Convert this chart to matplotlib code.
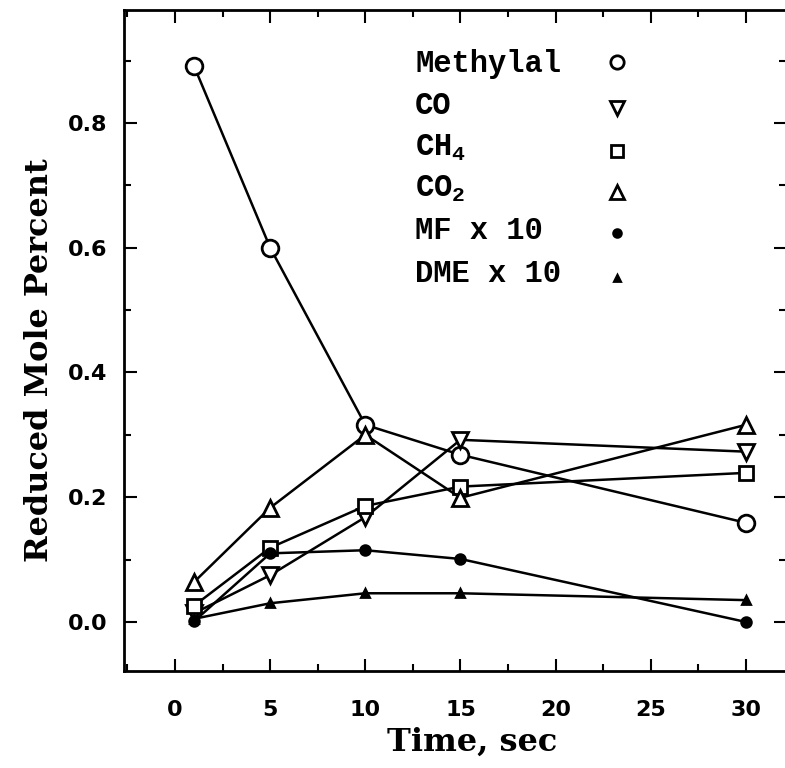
import matplotlib
matplotlib.use('Agg')
import matplotlib.pyplot as plt
from matplotlib.ticker import MultipleLocator

plt.rcParams['mathtext.fontset'] = 'custom'
plt.rcParams['mathtext.rm'] = 'Liberation Mono:bold'
plt.rcParams['mathtext.it'] = 'Liberation Mono:bold'
plt.rcParams['mathtext.bf'] = 'Liberation Mono:bold'

# time, sec
time = [1, 5, 10, 15, 30]

# reduced mole percent for each species
methylal = [0.891, 0.600, 0.316, 0.268, 0.159]
co = [0.014, 0.075, 0.168, 0.292, 0.273]
ch4 = [0.026, 0.119, 0.186, 0.217, 0.239]
co2 = [0.064, 0.183, 0.300, 0.199, 0.316]
mf_x10 = [0.001, 0.110, 0.115, 0.101, 0.0]
dme_x10 = [0.005, 0.030, 0.046, 0.046, 0.035]

labels = ['Methylal', 'CO', 'CH$_4$', 'CO$_2$', 'MF x 10', 'DME x 10']
x_ticks = [0, 5, 10, 15, 20, 25, 30]
y_ticks = [0.0, 0.2, 0.4, 0.6, 0.8]

# marker, size, face colour
styles = [
    ('o', 12, 'white'),
    ('v', 12, 'white'),
    ('s', 10, 'white'),
    ('^', 12, 'white'),
    ('o', 7, 'black'),
    ('^', 5.5, 'black'),
]
series = [methylal, co, ch4, co2, mf_x10, dme_x10]

fig = plt.figure(figsize=(7.85, 7.68), dpi=100)
ax = fig.add_axes([0.158, 0.1263, 0.8433, 0.8607])

for vals, (m, ms, fc) in zip(series, styles):
    ax.plot(time, vals, color='black', linewidth=1.8, marker=m, markersize=ms,
            markerfacecolor=fc, markeredgecolor='black', markeredgewidth=2.0)

ax.set_xlim(-2.68, 32.11)
ax.set_ylim(-0.0786, 0.981)
ax.set_xticks(x_ticks)
ax.set_yticks(y_ticks)
ax.set_yticklabels([f'{v:.1f}' for v in y_ticks])
ax.xaxis.set_minor_locator(MultipleLocator(2.5))
ax.yaxis.set_minor_locator(MultipleLocator(0.1))
ax.tick_params(which='both', direction='in', top=True, right=True, width=1.5, color='black')
ax.tick_params(which='major', length=9)
ax.tick_params(which='minor', length=5)
ax.tick_params(axis='x', which='major', pad=21)
ax.tick_params(axis='y', which='major', pad=12)
for lab in ax.get_xticklabels() + ax.get_yticklabels():
    lab.set_fontfamily('DejaVu Sans')
    lab.set_fontweight('bold')
    lab.set_fontsize(16)
for sp in ax.spines.values():
    sp.set_linewidth(2.0)

ax.set_xlabel('Time, sec', fontfamily='DejaVu Serif', fontweight='bold', fontsize=23)
ax.set_ylabel('Reduced Mole Percent', fontfamily='DejaVu Serif', fontweight='bold', fontsize=23)
ax.xaxis.set_label_coords(0.526, -0.085)
ax.yaxis.set_label_coords(-0.104, 0.47)

# key drawn as text column + marker column
text_y = [0.906, 0.842, 0.779, 0.717, 0.653, 0.588]
mark_y = [0.921, 0.851, 0.786, 0.724, 0.662, 0.595]
for lab, ty, my, (m, ms, fc) in zip(labels, text_y, mark_y, styles):
    ax.text(0.4396, ty, lab, transform=ax.transAxes, fontfamily='Liberation Mono',
            fontweight='bold', fontsize=22, va='baseline', ha='left')
    ax.plot([0.745], [my], transform=ax.transAxes, linestyle='none', marker=m,
            markersize=ms * 0.8, markerfacecolor=fc, markeredgecolor='black',
            markeredgewidth=2.0, clip_on=False)

fig.savefig('out.png', dpi=100)
